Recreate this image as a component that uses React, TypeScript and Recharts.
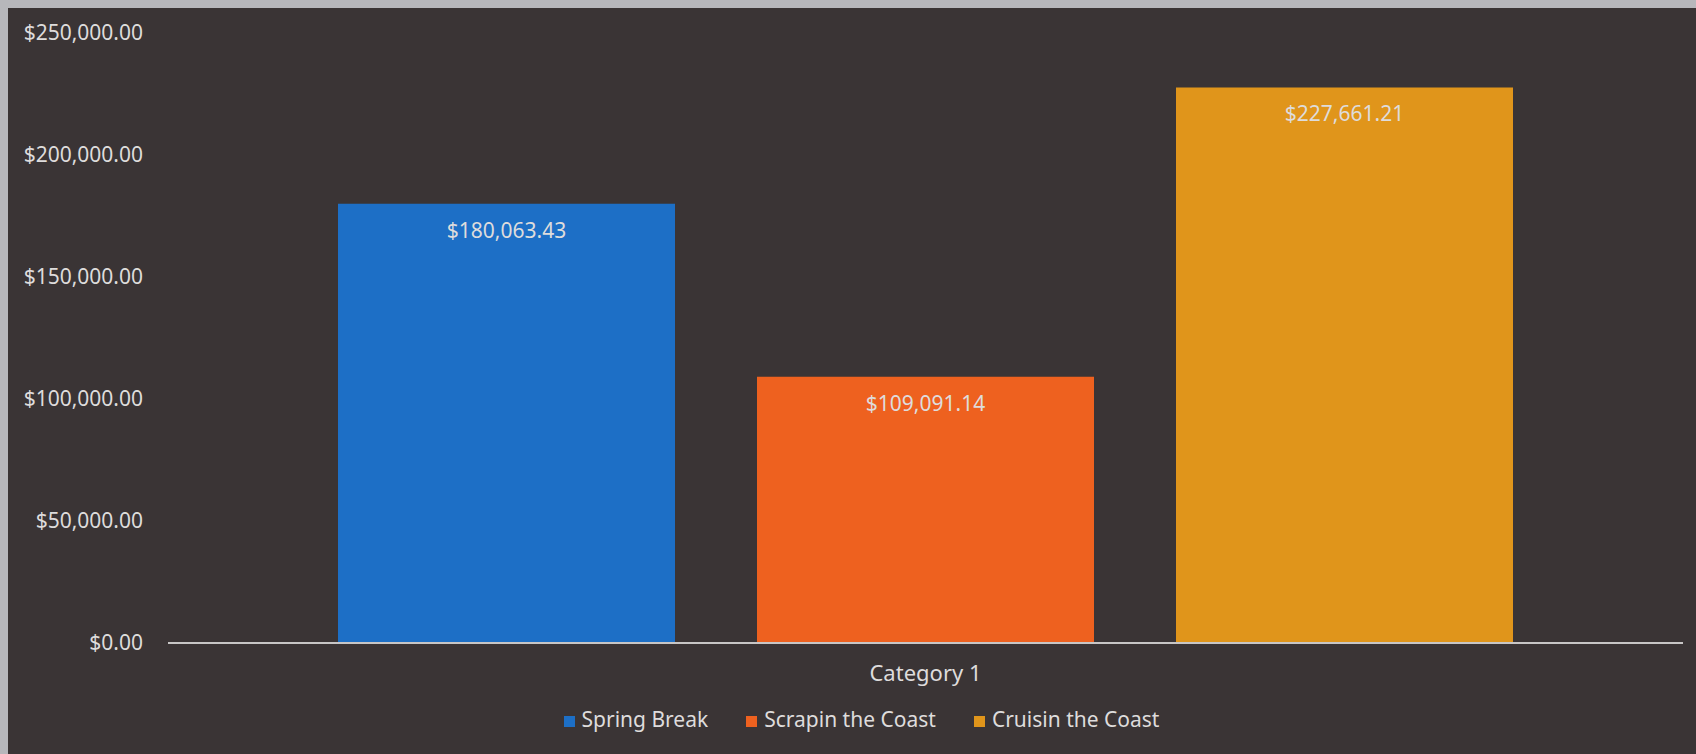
import React from 'react';
import { BarChart, Bar, XAxis, YAxis, Legend, LabelList } from 'recharts';

const categories = ['Category 1'];
const springBreak = [180063.43];
const scrapinTheCoast = [109091.14];
const cruisinTheCoast = [227661.21];
const yTicks = [0, 50000, 100000, 150000, 200000, 250000];
const seriesOrder = ['spring', 'scrapin', 'cruisin'];

const data = categories.map((name, i) => ({
  name,
  spring: springBreak[i],
  scrapin: scrapinTheCoast[i],
  cruisin: cruisinTheCoast[i],
}));

const money = (v: number) =>
  '$' + v.toLocaleString('en-US', { minimumFractionDigits: 2, maximumFractionDigits: 2 });

const FONT = '"Noto Sans", sans-serif';
const TEXT = '#dedcdc';

export default function App() {
  return (
    <div style={{ position: 'absolute', left: 0, top: 0, width: 1696, height: 754, background: '#b7b7bb', overflow: 'hidden' }}>
      <div style={{ position: 'absolute', left: 8, top: 8, width: 1688, height: 746, background: '#3a3435' }} />
      <div style={{ position: 'absolute', left: 0, top: 0 }}>
        <BarChart
          width={1696}
          height={754}
          data={data}
          margin={{ top: 33, right: 13, bottom: 17, left: 0 }}
          barCategoryGap={170}
          barGap={82}
          style={{ fontFamily: FONT }}
        >
          <XAxis
            dataKey="name"
            axisLine={{ stroke: '#c8c6c6', strokeWidth: 2 }}
            tickLine={false}
            tickSize={0}
            tickMargin={22}
            height={58}
            tick={{ fill: TEXT, fontSize: 22, fontFamily: FONT }}
          />
          <YAxis
            width={168}
            domain={[0, 250000]}
            ticks={yTicks}
            axisLine={false}
            tickLine={false}
            tickSize={0}
            tickMargin={25}
            tickFormatter={money}
            tick={{ fill: TEXT, fontSize: 21, fontFamily: FONT }}
          />
          <Legend
            verticalAlign="bottom"
            iconType="square"
            iconSize={11}
            itemSorter={(item: any) => seriesOrder.indexOf(item.dataKey)}
            wrapperStyle={{ height: 36, lineHeight: '36px', fontSize: 21, color: TEXT, fontFamily: FONT, paddingLeft: 78, boxSizing: 'border-box' }}
            formatter={(value: string) => <span style={{ color: TEXT, marginLeft: 3, marginRight: 28 }}>{value}</span>}
          />
          <Bar dataKey="spring" name="Spring Break" fill="#1d6fc6" isAnimationActive={false}>
            <LabelList dataKey="spring" position="insideTop" offset={19} formatter={(v: number) => money(v)} fill={TEXT} fontSize={21} fontFamily={FONT} />
          </Bar>
          <Bar dataKey="scrapin" name="Scrapin the Coast" fill="#ee611f" isAnimationActive={false}>
            <LabelList dataKey="scrapin" position="insideTop" offset={19} formatter={(v: number) => money(v)} fill={TEXT} fontSize={21} fontFamily={FONT} />
          </Bar>
          <Bar dataKey="cruisin" name="Cruisin the Coast" fill="#e0951b" isAnimationActive={false}>
            <LabelList dataKey="cruisin" position="insideTop" offset={19} formatter={(v: number) => money(v)} fill={TEXT} fontSize={21} fontFamily={FONT} />
          </Bar>
        </BarChart>
      </div>
    </div>
  );
}
